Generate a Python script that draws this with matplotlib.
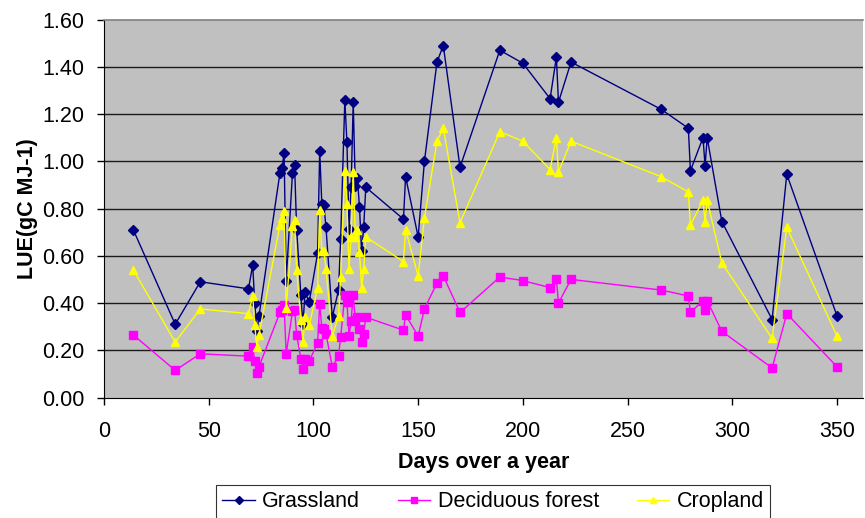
import matplotlib
matplotlib.use("Agg")
import matplotlib.pyplot as plt
from matplotlib.ticker import FuncFormatter

plt.rcParams['font.family'] = ['Liberation Sans', 'DejaVu Sans']

days = [14, 34, 46, 69, 71, 72, 73, 74, 84, 85, 86, 87, 90, 91, 92, 94, 95, 96, 98,
        102, 103, 104, 105, 106, 109, 112, 113, 115, 116, 117, 118, 119, 120, 121,
        122, 123, 124, 125, 143, 144, 150, 153, 159, 162, 170, 189, 200, 213, 216,
        217, 223, 266, 279, 280, 286, 287, 288, 295, 319, 326, 350]

grassland = [0.71, 0.31, 0.49, 0.46, 0.56, 0.40, 0.28, 0.345, 0.95, 0.97, 1.035, 0.495,
             0.95, 0.985, 0.71, 0.435, 0.31, 0.445, 0.405, 0.61, 1.045, 0.82, 0.815,
             0.72, 0.34, 0.455, 0.67, 1.26, 1.08, 0.715, 0.89, 1.25, 0.895, 0.93, 0.805,
             0.62, 0.72, 0.89, 0.755, 0.935, 0.68, 1.0, 1.42, 1.49, 0.975, 1.47, 1.415,
             1.265, 1.44, 1.25, 1.42, 1.22, 1.14, 0.96, 1.10, 0.98, 1.10, 0.745, 0.33,
             0.945, 0.345]

deciduous = [0.265, 0.115, 0.185, 0.175, 0.215, 0.155, 0.105, 0.13, 0.36, 0.37, 0.39,
             0.185, 0.365, 0.37, 0.265, 0.165, 0.12, 0.165, 0.155, 0.23, 0.395, 0.295,
             0.29, 0.27, 0.13, 0.175, 0.255, 0.435, 0.405, 0.26, 0.325, 0.435, 0.33,
             0.34, 0.29, 0.235, 0.27, 0.34, 0.285, 0.35, 0.26, 0.375, 0.485, 0.515,
             0.36, 0.51, 0.495, 0.465, 0.50, 0.40, 0.50, 0.455, 0.43, 0.36, 0.41, 0.37,
             0.41, 0.28, 0.125, 0.355, 0.13]

cropland = [0.54, 0.235, 0.375, 0.355, 0.43, 0.305, 0.215, 0.265, 0.73, 0.76, 0.79, 0.38,
            0.725, 0.75, 0.54, 0.33, 0.235, 0.34, 0.305, 0.465, 0.795, 0.62, 0.62, 0.545,
            0.26, 0.345, 0.51, 0.96, 0.82, 0.545, 0.68, 0.955, 0.68, 0.71, 0.615, 0.465,
            0.545, 0.68, 0.575, 0.71, 0.515, 0.76, 1.085, 1.14, 0.74, 1.125, 1.085,
            0.965, 1.10, 0.955, 1.085, 0.935, 0.87, 0.73, 0.835, 0.745, 0.835, 0.57,
            0.25, 0.72, 0.26]

x_ticks = [0, 50, 100, 150, 200, 250, 300, 350]
y_ticks = [0.0, 0.2, 0.4, 0.6, 0.8, 1.0, 1.2, 1.4, 1.6]

FS = 15.5

fig = plt.figure(figsize=(8.65, 5.18), dpi=100)
ax = fig.add_axes([0.1202, 0.2326, 0.8775, 0.7297])
ax.set_facecolor('#C0C0C0')

for yv in y_ticks[1:-1]:
    ax.axhline(yv, color='#1a1a1a', lw=1.0, zorder=1)

ax.plot(days, grassland, color='#000080', lw=1.0, marker='D', ms=5.2,
        mec='#000080', mfc='#000080', label='Grassland', zorder=3)
ax.plot(days, deciduous, color='#FF00FF', lw=1.0, marker='s', ms=5.8,
        mec='#FF00FF', mfc='#FF00FF', label='Deciduous forest', zorder=3)
ax.plot(days, cropland, color='#FFFF00', lw=1.0, marker='^', ms=6.2,
        mec='#FFFF00', mfc='#FFFF00', label='Cropland', zorder=4)

ax.set_xlim(0, 362.4)
ax.set_ylim(0, 1.6)
ax.set_xticks(x_ticks)
ax.set_yticks(y_ticks)
ax.yaxis.set_major_formatter(FuncFormatter(lambda v, p: f"{v:.2f}"))
ax.tick_params(axis='both', labelsize=FS, length=5, width=1, color='black')
ax.tick_params(axis='x', pad=12)
ax.tick_params(axis='y', pad=9)

ax.spines['top'].set_color('#808080')
ax.spines['top'].set_linewidth(1.2)
ax.spines['right'].set_visible(False)
ax.spines['left'].set_color('black')
ax.spines['bottom'].set_color('black')

ax.set_xlabel('Days over a year', fontsize=FS, fontweight='bold', labelpad=7)
ax.set_ylabel('LUE(gC MJ-1)', fontsize=FS, fontweight='bold', labelpad=3)

leg = fig.legend(loc='upper center', bbox_to_anchor=(0.570, 0.0637), ncol=3,
                 fontsize=FS, frameon=True, fancybox=False, edgecolor='black',
                 handlelength=1.5, handletextpad=0.35, columnspacing=1.75,
                 borderpad=0.3, borderaxespad=0, markerscale=0.75)
leg.get_frame().set_linewidth(0.8)

fig.savefig('out.png', dpi=100, facecolor='white')
